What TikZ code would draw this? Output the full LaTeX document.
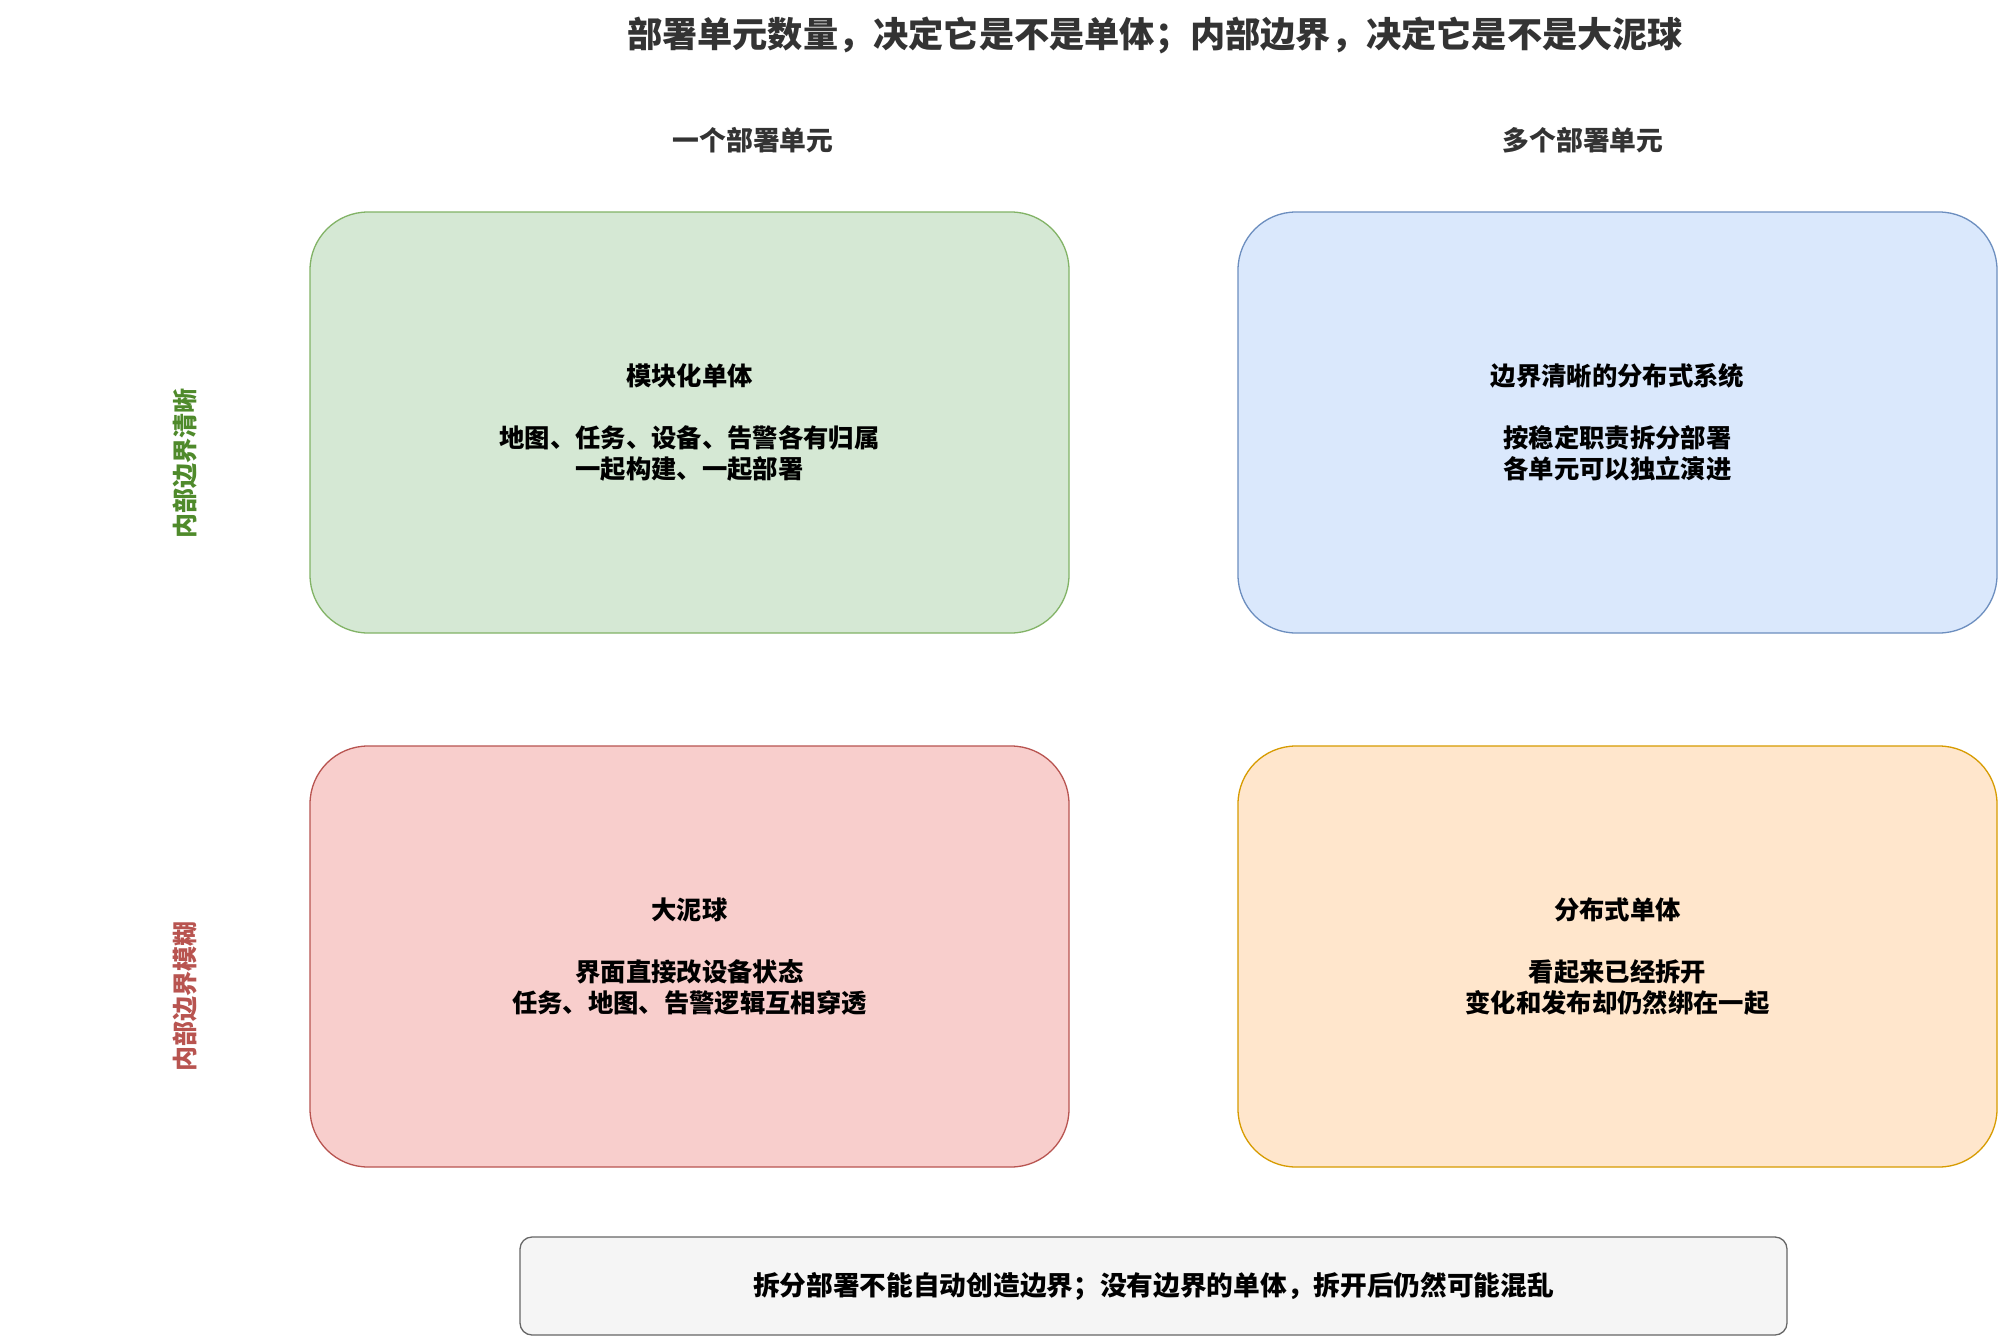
\documentclass[tikz,border=0pt]{standalone}
\usepackage{fontspec}
\newfontfamily\cjk{Noto Sans CJK SC}
\definecolor{gfill}{HTML}{D5E8D4}\definecolor{gline}{HTML}{82B366}
\definecolor{bfill}{HTML}{DAE8FC}\definecolor{bline}{HTML}{6C8EBF}
\definecolor{rfill}{HTML}{F8CECC}\definecolor{rline}{HTML}{B85450}
\definecolor{ofill}{HTML}{FFE6CC}\definecolor{oline}{HTML}{D79B00}
\definecolor{nfill}{HTML}{F5F5F5}\definecolor{nline}{HTML}{666666}
\definecolor{titlec}{HTML}{333333}
\definecolor{glabel}{HTML}{4F8A2B}
\begin{document}
\begin{tikzpicture}[x=1pt,y=-1pt,
  quad/.style={draw, line width=1.3pt, rounded corners=58pt, minimum width=759pt, minimum height=421pt,
    align=center, inner sep=0pt, text=black, font=\cjk\bfseries\fontsize{25.35}{31}\selectfont},
  colhead/.style={text=titlec, font=\cjk\bfseries\fontsize{26.8}{31}\selectfont},
  rowlabel/.style={rotate=90, font=\cjk\bfseries\fontsize{25}{30}\selectfont}]
\useasboundingbox (0,0) rectangle (2000,1341);
\fill[white] (0,0) rectangle (2000,1341);
\node[text=titlec, font=\cjk\bfseries\fontsize{35.2}{40}\selectfont] (title) at (1155,35) {部署单元数量，决定它是不是单体；内部边界，决定它是不是大泥球};
\node[colhead] (c1) at (753,140) {一个部署单元};
\node[colhead] (c2) at (1583,140) {多个部署单元};
\node[rowlabel, text=glabel] (r1) at (185,463) {内部边界清晰};
\node[rowlabel, text=rline] (r2) at (185,996) {内部边界模糊};
\node[quad, fill=gfill, draw=gline] (q1) at (689.5,422.5) {模块化单体\\[31pt]地图、任务、设备、告警各有归属\\一起构建、一起部署};
\node[quad, fill=bfill, draw=bline] (q2) at (1617.5,422.5) {边界清晰的分布式系统\\[31pt]按稳定职责拆分部署\\各单元可以独立演进};
\node[quad, fill=rfill, draw=rline] (q3) at (689.5,956.5) {大泥球\\[31pt]界面直接改设备状态\\任务、地图、告警逻辑互相穿透};
\node[quad, fill=ofill, draw=oline] (q4) at (1617.5,956.5) {分布式单体\\[31pt]看起来已经拆开\\变化和发布却仍然绑在一起};
\node[draw=nline, fill=nfill, line width=1.3pt, rounded corners=12pt, minimum width=1267pt, minimum height=98pt,
  inner sep=0pt, text=black, font=\cjk\bfseries\fontsize{26.7}{31}\selectfont] (note) at (1153.5,1286) {拆分部署不能自动创造边界；没有边界的单体，拆开后仍然可能混乱};
\end{tikzpicture}
\end{document}
